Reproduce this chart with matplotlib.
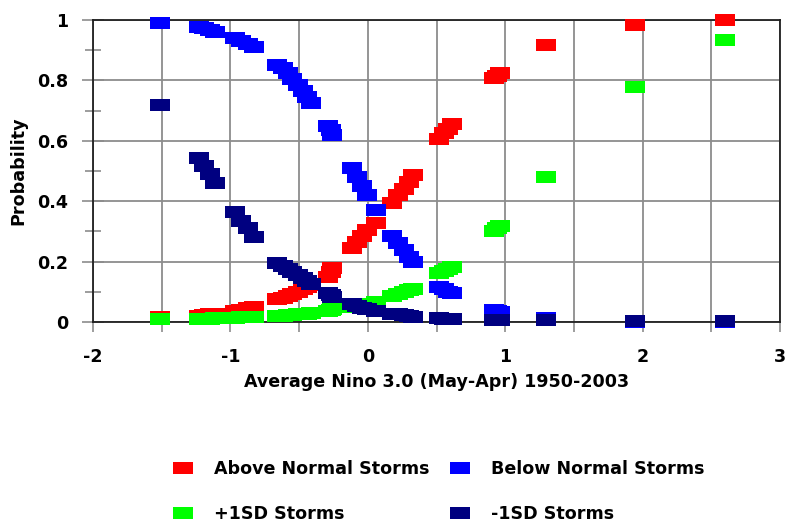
import matplotlib
matplotlib.use('Agg')
import matplotlib.pyplot as plt
from matplotlib.ticker import MultipleLocator, FuncFormatter

plt.rcParams['font.family'] = ['DejaVu Sans']
plt.rcParams['font.weight'] = 'bold'
plt.rcParams['axes.labelweight'] = 'bold'
plt.rcParams['font.size'] = 12.6
plt.rcParams['axes.unicode_minus'] = False

# average Nino 3.0 values (x) and the probability for each storm class
nino = [-1.51,
        -1.23, -1.19, -1.15, -1.11,
        -0.965, -0.92, -0.875, -0.83,
        -0.66, -0.62, -0.58, -0.55, -0.51, -0.47, -0.44, -0.41,
        -0.29, -0.27, -0.257,
        -0.114, -0.08, -0.04, -0.007, 0.06,
        0.177, 0.22, 0.26, 0.30, 0.33,
        0.52, 0.555, 0.585, 0.61,
        0.916, 0.94, 0.962,
        1.296, 1.944, 2.60]

above = [0.015,
         0.02, 0.022, 0.025, 0.028,
         0.035, 0.04, 0.045, 0.05,
         0.075, 0.08, 0.087, 0.093, 0.10, 0.108, 0.115, 0.122,
         0.15, 0.165, 0.178,
         0.244, 0.265, 0.285, 0.305, 0.327,
         0.393, 0.42, 0.44, 0.465, 0.487,
         0.605, 0.625, 0.64, 0.656,
         0.807, 0.815, 0.823,
         0.917, 0.983, 1.0]

below = [0.99,
         0.976, 0.972, 0.966, 0.96,
         0.94, 0.93, 0.92, 0.91,
         0.851, 0.84, 0.825, 0.805, 0.785, 0.765, 0.745, 0.724,
         0.65, 0.635, 0.62,
         0.51, 0.48, 0.45, 0.42, 0.371,
         0.286, 0.26, 0.24, 0.215, 0.2,
         0.117, 0.11, 0.10, 0.095,
         0.04, 0.035, 0.032,
         0.012, 0.0, 0.0]

plus1sd = [0.01,
           0.01, 0.01, 0.011, 0.012,
           0.014, 0.015, 0.016, 0.017,
           0.02, 0.021, 0.022, 0.024, 0.025, 0.027, 0.028, 0.03,
           0.038, 0.04, 0.042,
           0.05, 0.053, 0.057, 0.06, 0.066,
           0.085, 0.092, 0.098, 0.105, 0.11,
           0.161, 0.168, 0.176, 0.183,
           0.301, 0.31, 0.318,
           0.479, 0.777, 0.933]

minus1sd = [0.72,
            0.542, 0.515, 0.49, 0.46,
            0.365, 0.335, 0.31, 0.28,
            0.194, 0.185, 0.175, 0.165, 0.155, 0.145, 0.135, 0.125,
            0.095, 0.088, 0.082,
            0.058, 0.052, 0.047, 0.042, 0.036,
            0.028, 0.025, 0.022, 0.02, 0.018,
            0.012, 0.011, 0.01, 0.01,
            0.005, 0.005, 0.005,
            0.005, 0.002, 0.002]

# wide rectangle marker like the old excel one
rect = [(-1.5, -1), (1.5, -1), (1.5, 1), (-1.5, 1), (-1.5, -1)]

fig = plt.figure(figsize=(7.88, 5.29), dpi=100)
ax = fig.add_axes([93/788, 1-322/529, (780-93)/788, (322-20)/529])

kw = dict(marker=rect, markersize=13.7, markeredgewidth=0, linestyle='none', clip_on=False)
a, = ax.plot(nino, above, color='#ff0000', label='Above Normal Storms', zorder=3, **kw)
b, = ax.plot(nino, below, color='#0000ff', label='Below Normal Storms', zorder=4, **kw)
c, = ax.plot(nino, plus1sd, color='#00ff00', label='+1SD Storms', zorder=5, **kw)
d, = ax.plot(nino, minus1sd, color='#000080', label='-1SD Storms', zorder=6, **kw)

ax.set_xlim(-2, 3)
ax.set_ylim(0, 1)
ax.xaxis.set_major_locator(MultipleLocator(1))
ax.xaxis.set_minor_locator(MultipleLocator(0.5))
ax.yaxis.set_major_locator(MultipleLocator(0.2))
ax.yaxis.set_minor_locator(MultipleLocator(0.1))
ax.yaxis.set_major_formatter(FuncFormatter(lambda v, p: f'{v:g}'))

ax.grid(True, which='major', color='#8c8c8c', lw=1.3)
ax.grid(True, which='minor', axis='x', color='#8c8c8c', lw=1.3)
ax.set_axisbelow(True)
for s in ax.spines.values():
    s.set_color('#202020')
    s.set_linewidth(1.3)

ax.tick_params(axis='y', which='major', direction='inout', length=16, color='#8c8c8c', width=1.2, pad=10)
ax.tick_params(axis='y', which='minor', direction='inout', length=12, color='#8c8c8c', width=1.2)
ax.tick_params(axis='x', which='both', direction='out', length=7, color='#8c8c8c', width=1.2, pad=12)

ax.set_xlabel('Average Nino 3.0 (May-Apr) 1950-2003', labelpad=5)
ax.set_ylabel('Probability', labelpad=7)

# column-major fill, so this order gives Above/Below on the first row
fig.legend(handles=[a, c, b, d], ncol=2, loc='upper left',
           bbox_to_anchor=(174/788, 1-460/529), frameon=False,
           borderpad=0, borderaxespad=0, handlelength=1.0, handletextpad=1.3,
           columnspacing=1.2, labelspacing=1.55, numpoints=1)

fig.savefig('out.png', dpi=100)
